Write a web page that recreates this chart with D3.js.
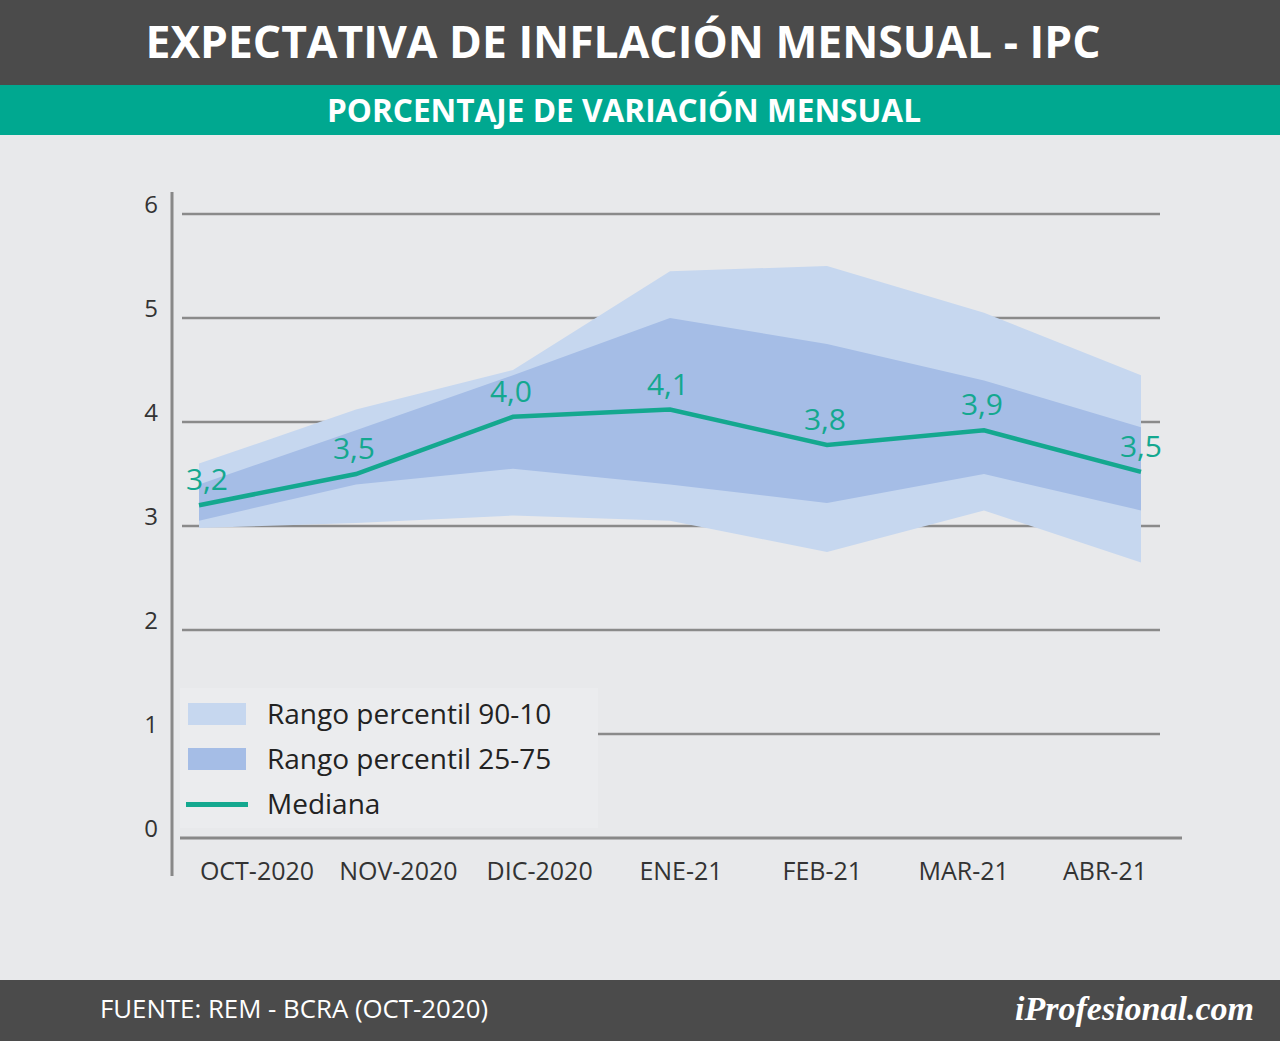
<!DOCTYPE html><html><head><meta charset="utf-8"><script src="https://cdn.jsdelivr.net/npm/d3@7"></script>
<style>body{margin:0;background:#e8e9eb}</style></head><body><svg id="c" width="1280" height="1041"></svg>
<script>
const categories=["OCT-2020","NOV-2020","DIC-2020","ENE-21","FEB-21","MAR-21","ABR-21"];
const mediana=[3.2,3.5,4.05,4.12,3.78,3.92,3.52];
const medianaLabels=["3,2","3,5","4,0","4,1","3,8","3,9","3,5"];
const p90=[3.6,4.12,4.5,5.45,5.5,5.05,4.45];
const p10=[2.98,3.03,3.1,3.05,2.75,3.15,2.65];
const p75=[3.4,3.92,4.45,5.0,4.75,4.4,3.95];
const p25=[3.05,3.4,3.55,3.4,3.22,3.5,3.15];
const yTicks=[0,1,2,3,4,5,6];
const svg=d3.select("#c");
svg.append("rect").attr("width",1280).attr("height",1041).attr("fill","#e8e9eb");
svg.append("rect").attr("width",1280).attr("height",85).attr("fill","#4b4b4b");
svg.append("rect").attr("y",85).attr("width",1280).attr("height",50).attr("fill","#00a890");
svg.append("text").attr("x",623).attr("y",58).attr("text-anchor","middle").attr("fill","#fff").attr("font-family","Open Sans").attr("font-weight",700).attr("font-size",44).attr("textLength",955).attr("lengthAdjust","spacingAndGlyphs").text("EXPECTATIVA DE INFLACIÓN MENSUAL - IPC");
svg.append("text").attr("x",624).attr("y",122).attr("text-anchor","middle").attr("fill","#fff").attr("font-family","Open Sans").attr("font-weight",700).attr("font-size",32).attr("textLength",594).attr("lengthAdjust","spacingAndGlyphs").text("PORCENTAJE DE VARIACIÓN MENSUAL");
svg.append("rect").attr("y",980).attr("width",1280).attr("height",61).attr("fill","#4b4b4b");
svg.append("text").attr("x",100).attr("y",1018).attr("fill","#fff").attr("font-family","Open Sans").attr("font-size",26).attr("textLength",388).attr("lengthAdjust","spacingAndGlyphs").text("FUENTE: REM - BCRA (OCT-2020)");
svg.append("text").attr("x",1254).attr("y",1020).attr("text-anchor","end").attr("fill","#fff").attr("font-family","Liberation Serif").attr("font-style","italic").attr("font-weight",700).attr("font-size",34).text("iProfesional.com");
const y=d3.scaleLinear().domain([0,6]).range([838,214]);
const x=d3.scalePoint().domain(categories).range([199,1141]);
const xl=d3.scalePoint().domain(categories).range([257,1105]);
const g=svg.append("g");
g.selectAll(".grid").data(yTicks.slice(1)).join("line").attr("x1",182).attr("x2",1160).attr("y1",d=>y(d)).attr("y2",d=>y(d)).attr("stroke","#8a8a8a").attr("stroke-width",2.5);
g.selectAll(".yl").data(yTicks).join("text").attr("x",158).attr("y",d=>y(d)-1).attr("text-anchor","end").attr("font-family","Open Sans").attr("font-size",24).attr("fill","#333").text(d=>d);
const area=(hi,lo)=>d3.area().x((d,i)=>x(categories[i])).y0((d,i)=>y(lo[i])).y1((d,i)=>y(hi[i]))(hi);
g.append("path").attr("d",area(p90,p10)).attr("fill","#c6d7ef");
g.append("path").attr("d",area(p75,p25)).attr("fill","#a5bde6");
g.append("path").attr("d",d3.line().x((d,i)=>x(categories[i])).y(d=>y(d))(mediana)).attr("fill","none").attr("stroke","#14a88f").attr("stroke-width",4.5);
g.selectAll(".ml").data(mediana).join("text").attr("x",(d,i)=>x(categories[i])+(i==0?8:i==6?0:-2)).attr("y",d=>y(d)-15).attr("text-anchor","middle").attr("font-family","Open Sans").attr("font-size",30).attr("fill","#14a88f").text((d,i)=>medianaLabels[i]);
g.append("line").attr("x1",172).attr("x2",172).attr("y1",192).attr("y2",876).attr("stroke","#888").attr("stroke-width",3);
g.append("line").attr("x1",180).attr("x2",1182).attr("y1",838).attr("y2",838).attr("stroke","#888").attr("stroke-width",3);
g.selectAll(".xl").data(categories).join("text").attr("x",d=>xl(d)).attr("y",880).attr("text-anchor","middle").attr("font-family","Open Sans").attr("font-size",25).attr("fill","#333").text(d=>d);
const lg=svg.append("g");
lg.append("rect").attr("x",180).attr("y",688).attr("width",418).attr("height",140).attr("fill","#ebecee");
const items=[["Rango percentil 90-10","#c6d7ef","r"],["Rango percentil 25-75","#a5bde6","r"],["Mediana","#14a88f","l"]];
items.forEach((it,i)=>{const cy=714+i*45;
 if(it[2]=="r")lg.append("rect").attr("x",188).attr("y",cy-11).attr("width",58).attr("height",22).attr("fill",it[1]);
 else lg.append("rect").attr("x",186).attr("y",cy-2).attr("width",62).attr("height",5).attr("fill",it[1]);
 lg.append("text").attr("x",267).attr("y",cy+10).attr("font-family","Open Sans").attr("font-size",28).attr("fill","#222").text(it[0]);});
</script></body></html>
